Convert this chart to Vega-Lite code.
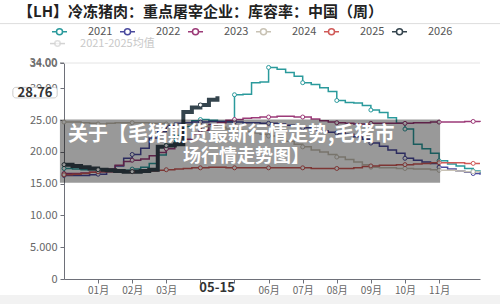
{
  "$schema": "https://vega.github.io/schema/vega-lite/v6.json",
  "width": 416,
  "height": 216,
  "autosize": {"type": "none"},
  "padding": {"left": 64, "top": 63, "right": 20, "bottom": 25},
  "background": "white",
  "config": {
    "view": {"stroke": null},
    "font": "Noto Sans CJK SC",
    "axis": {"labelOverlap": false, "labelFont": "Noto Sans CJK SC"},
    "axisY": {"labelOverlap": false, "gridColor": "#e4e4e4", "domainColor": "#6e7079", "tickColor": "#6e7079", "tickSize": 4, "labelColor": "#666", "labelFontSize": 11, "labelPadding": 3},
    "axisX": {"labelOverlap": false, "grid": false, "domainColor": "#6e7079", "tickColor": "#6e7079", "tickSize": 4, "labelColor": "#666", "labelFontSize": 10, "labelPadding": 2}
  },
  "datasets": {
    "weekly": [
      {"t": 0, "2021": 17.4, "2022": 16.3, "2023": 16.6, "2024": 24.7, "2025": 16.4, "2026": 18.0},
      {"t": 0.25, "2021": 17.3, "2022": 16.3, "2023": 16.6, "2024": 24.7, "2025": 16.5, "2026": 17.8},
      {"t": 0.5, "2021": 17.2, "2022": 16.3, "2023": 16.7, "2024": 24.6, "2025": 16.6, "2026": 17.6},
      {"t": 0.75, "2021": 17.2, "2022": 16.4, "2023": 16.8, "2024": 24.5, "2025": 16.8, "2026": 17.4},
      {"t": 1, "2021": 17.1, "2022": 16.5, "2023": 16.9, "2024": 24.4, "2025": 16.9, "2026": 17.2},
      {"t": 1.25, "2021": 17.0, "2022": 16.9, "2023": 17.3, "2024": 24.5, "2025": 16.9, "2026": 17.1},
      {"t": 1.5, "2021": 17.0, "2022": 17.8, "2023": 17.9, "2024": 24.6, "2025": 16.9, "2026": 17.0},
      {"t": 1.75, "2021": 17.1, "2022": 19.0, "2023": 18.5, "2024": 24.6, "2025": 16.9, "2026": 16.9},
      {"t": 2, "2021": 17.3, "2022": 19.6, "2023": 18.7, "2024": 24.6, "2025": 16.9, "2026": 16.9},
      {"t": 2.25, "2021": 17.6, "2022": 20.6, "2023": 18.9, "2024": 24.6, "2025": 17.0, "2026": 17.0},
      {"t": 2.5, "2021": 18.2, "2022": 22.2, "2023": 19.4, "2024": 24.5, "2025": 17.0, "2026": 17.2},
      {"t": 2.75, "2021": 19.5, "2022": 23.2, "2023": 19.9, "2024": 24.5, "2025": 17.1, "2026": 20.8},
      {"t": 3, "2021": 21.0, "2022": 24.2, "2023": 20.5, "2024": 24.4, "2025": 17.2, "2026": 21.0},
      {"t": 3.25, "2021": 22.6, "2022": 24.5, "2023": 21.2, "2024": 24.3, "2025": 17.3, "2026": 21.2},
      {"t": 3.5, "2021": 24.0, "2022": 24.6, "2023": 22.0, "2024": 24.3, "2025": 17.4, "2026": 26.3},
      {"t": 3.75, "2021": 24.9, "2022": 24.7, "2023": 22.8, "2024": 24.2, "2025": 17.5, "2026": 27.0},
      {"t": 4, "2021": 25.1, "2022": 24.7, "2023": 23.4, "2024": 24.1, "2025": 17.5, "2026": 27.4},
      {"t": 4.25, "2021": 25.0, "2022": 24.8, "2023": 24.3, "2024": 24.0, "2025": 17.6, "2026": 28.2},
      {"t": 4.5, "2021": 24.8, "2022": 24.8, "2023": 24.6, "2024": 23.9, "2025": 17.6, "2026": 28.76},
      {"t": 4.75, "2021": 24.8, "2022": 24.7, "2023": 25.0, "2024": 23.6, "2025": 17.5},
      {"t": 5, "2021": 29.0, "2022": 24.7, "2023": 25.1, "2024": 23.4, "2025": 17.5},
      {"t": 5.25, "2021": 29.1, "2022": 24.6, "2023": 25.3, "2024": 23.2, "2025": 17.5},
      {"t": 5.5, "2021": 30.9, "2022": 24.6, "2023": 25.4, "2024": 23.0, "2025": 17.5},
      {"t": 5.75, "2021": 31.0, "2022": 24.5, "2023": 25.5, "2024": 22.8, "2025": 17.5},
      {"t": 6, "2021": 33.3, "2022": 24.5, "2023": 25.5, "2024": 22.5, "2025": 17.5},
      {"t": 6.25, "2021": 33.0, "2022": 24.4, "2023": 25.6, "2024": 22.1, "2025": 17.5},
      {"t": 6.5, "2021": 32.5, "2022": 24.2, "2023": 25.6, "2024": 21.7, "2025": 17.5},
      {"t": 6.75, "2021": 31.9, "2022": 24.0, "2023": 25.5, "2024": 21.2, "2025": 17.5},
      {"t": 7, "2021": 30.9, "2022": 23.8, "2023": 25.5, "2024": 20.8, "2025": 17.5},
      {"t": 7.25, "2021": 30.6, "2022": 23.5, "2023": 25.2, "2024": 20.3, "2025": 17.4},
      {"t": 7.5, "2021": 30.1, "2022": 23.3, "2023": 24.9, "2024": 20.0, "2025": 17.4},
      {"t": 7.75, "2021": 29.5, "2022": 23.1, "2023": 24.7, "2024": 19.6, "2025": 17.4},
      {"t": 8, "2021": 28.1, "2022": 23.0, "2023": 24.6, "2024": 19.2, "2025": 17.4},
      {"t": 8.25, "2021": 27.8, "2022": 22.8, "2023": 24.5, "2024": 18.8, "2025": 17.4},
      {"t": 8.5, "2021": 27.7, "2022": 22.4, "2023": 24.4, "2024": 18.4, "2025": 17.5},
      {"t": 8.75, "2021": 27.3, "2022": 22.0, "2023": 24.4, "2024": 18.0, "2025": 17.7},
      {"t": 9, "2021": 26.6, "2022": 21.4, "2023": 24.5, "2024": 17.6, "2025": 17.8},
      {"t": 9.25, "2021": 26.2, "2022": 20.9, "2023": 24.5, "2024": 17.5, "2025": 17.9},
      {"t": 9.5, "2021": 25.4, "2022": 20.3, "2023": 24.5, "2024": 17.5, "2025": 17.9},
      {"t": 9.75, "2021": 24.5, "2022": 19.8, "2023": 24.5, "2024": 17.4, "2025": 18.0},
      {"t": 10, "2021": 23.6, "2022": 19.0, "2023": 24.5, "2024": 17.4, "2025": 18.0},
      {"t": 10.25, "2021": 21.2, "2022": 18.7, "2023": 24.6, "2024": 17.3, "2025": 18.1},
      {"t": 10.5, "2021": 20.5, "2022": 18.4, "2023": 24.6, "2024": 17.3, "2025": 18.2},
      {"t": 10.75, "2021": 19.8, "2022": 18.2, "2023": 24.7, "2024": 17.2, "2025": 18.3},
      {"t": 11, "2021": 18.6, "2022": 17.6, "2023": 24.7, "2024": 17.1, "2025": 18.3},
      {"t": 11.25, "2021": 18.1, "2022": 17.3, "2023": 24.7, "2024": 17.1, "2025": 18.3},
      {"t": 11.5, "2021": 17.8, "2022": 17.0, "2023": 24.7, "2024": 17.0, "2025": 18.3},
      {"t": 11.75, "2021": 17.4, "2022": 16.8, "2023": 24.8, "2024": 16.9, "2025": 18.2},
      {"t": 12, "2021": 17.0, "2022": 16.6, "2023": 24.8, "2024": 16.9, "2025": 18.2},
      {"t": 12.2, "2021": 16.7, "2022": 16.4, "2023": 24.7, "2024": 16.8, "2025": 18.2}
    ]
  },
  "layer": [
    {
      "data": {"values": [{}]},
      "mark": {"type": "rect", "fill": "#f2f2f2"},
      "encoding": {
        "x": {
          "datum": -1.9, "type": "quantitative",
          "scale": {"domain": [0, 12.2], "nice": false, "zero": false},
          "axis": {
            "values": [1, 2, 3, 4, 5, 6, 7, 8, 9, 10, 11],
            "labelExpr": "datum.value == 4 || datum.value == 5 ? '' : (datum.value < 10 ? '0' : '') + datum.value + '月'",
            "title": null
          }
        },
        "x2": {"datum": 12.8},
        "y": {
          "datum": -2.5, "type": "quantitative",
          "scale": {"domain": [0, 34], "nice": false},
          "axis": {"values": [0, 5, 10, 15, 20, 25, 30, 34], "tickCount": 8, "format": ".4r", "title": null}
        },
        "y2": {"datum": -4}
      }
    },
    {
      "data": {"values": [{}]},
      "mark": {"type": "rule", "color": "#e4e4e4", "strokeWidth": 1},
      "encoding": {"x": {"datum": 0}, "x2": {"datum": 12.2}, "y": {"datum": 34}}
    },
    {
      "data": {"values": [{}]},
      "mark": {"type": "rule", "color": "#6e7079", "strokeWidth": 1},
      "encoding": {"x": {"datum": -0.117}, "x2": {"datum": 0}, "y": {"datum": 34}}
    },
    {
      "data": {"values": [{}]},
      "mark": {"type": "text", "text": "34.00", "align": "right", "baseline": "middle", "fontSize": 11, "color": "#666666", "font": "Noto Sans CJK SC"},
      "encoding": {"x": {"datum": -0.205}, "y": {"datum": 34}}
    },
    {
      "data": {"name": "weekly"},
      "transform": [
        {"fold": ["2021", "2022", "2023", "2024", "2025", "2026"], "as": ["year", "v"]},
        {"filter": "datum.v != null"}
      ],
      "mark": {"type": "line", "interpolate": "step-after"},
      "encoding": {
        "x": {"field": "t", "type": "quantitative"},
        "y": {"field": "v", "type": "quantitative"},
        "color": {
          "field": "year", "type": "nominal",
          "scale": {
            "domain": ["2021", "2022", "2023", "2024", "2025", "2026", "2021-2025均值"],
            "range": ["#2a9a9c", "#4a4a9e", "#9c3a78", "#c8c2b4", "#d05a58", "#34444d", "#d3d3d3"]
          },
          "legend": {
            "title": null, "orient": "none", "legendX": -13, "legendY": -40,
            "direction": "horizontal", "columns": 6, "padding": 0,
            "values": ["2021", "2022", "2023", "2024", "2025", "2026"],
            "symbolType": "M-1,0L-0.4,0M0.4,0L1,0M0.4,0A0.4,0.4,0,1,1,-0.4,0A0.4,0.4,0,1,1,0.4,0Z",
            "symbolSize": 225, "symbolStrokeWidth": 1.5,
            "labelFontSize": 11, "labelColor": "#555", "labelOffset": 20,
            "columnPadding": 4, "rowPadding": -2,
            "encode": {
              "symbols": {"update": {"fill": {"value": "#ffffff"}}}
            }
          }
        },
        "strokeWidth": {"condition": {"test": "datum.year === '2026'", "value": 4}, "value": 1.5}
      }
    },
    {
      "data": {"name": "weekly"},
      "transform": [
        {"fold": ["2021", "2022", "2023", "2024", "2025", "2026"], "as": ["year", "v"]},
        {"filter": "datum.v != null && datum.t % 1 === 0"}
      ],
      "mark": {"type": "point", "filled": false, "fill": "#ffffff", "size": 16, "strokeWidth": 1, "opacity": 1},
      "encoding": {
        "x": {"field": "t", "type": "quantitative"},
        "y": {"field": "v", "type": "quantitative"},
        "color": {"field": "year", "type": "nominal", "legend": null}
      }
    },
    {
      "data": {"values": [{}]},
      "mark": {"type": "rule", "color": "#d3d3d3", "strokeWidth": 1.5},
      "encoding": {"x": {"datum": -0.41}, "x2": {"datum": 0.03}, "y": {"datum": 37.06}}
    },
    {
      "data": {"values": [{}]},
      "mark": {"type": "point", "shape": "circle", "filled": false, "fill": "#ffffff", "stroke": "#d3d3d3", "size": 30, "strokeWidth": 1.5},
      "encoding": {"x": {"datum": -0.19}, "y": {"datum": 37.06}}
    },
    {
      "data": {"values": [{}]},
      "mark": {"type": "text", "text": "2021-2025均值", "align": "left", "baseline": "middle", "fontSize": 11, "color": "#c8c8c8", "font": "Noto Sans CJK SC"},
      "encoding": {"x": {"datum": 0.47}, "y": {"datum": 37.06}}
    },
    {
      "data": {"values": [{}]},
      "mark": {"type": "rect", "fill": "#000000", "opacity": 0.4},
      "encoding": {
        "x": {"datum": -0.12}, "x2": {"datum": 11.03},
        "y": {"datum": 25.09}, "y2": {"datum": 15.17}
      }
    },
    {
      "data": {"values": [{}]},
      "mark": {"type": "text", "text": "关于【毛猪期货最新行情走势,毛猪市", "align": "left", "baseline": "middle", "fontSize": 20, "fontWeight": "bold", "color": "#ffffff", "font": "Noto Sans CJK SC"},
      "encoding": {"x": {"datum": 0.12}, "y": {"datum": 22.7}}
    },
    {
      "data": {"values": [{}]},
      "mark": {"type": "text", "text": "场行情走势图】", "align": "left", "baseline": "middle", "fontSize": 18, "fontWeight": "bold", "color": "#ffffff", "font": "Noto Sans CJK SC"},
      "encoding": {"x": {"datum": 3.49}, "y": {"datum": 19.25}}
    },
    {
      "data": {"values": [{}]},
      "mark": {"type": "text", "text": "【LH】冷冻猪肉：重点屠宰企业：库容率：中国（周）", "align": "left", "baseline": "middle", "fontSize": 15, "fontWeight": "bold", "color": "#222222", "font": "Noto Sans CJK SC"},
      "encoding": {"x": {"datum": -1.35}, "y": {"datum": 42.1}}
    },
    {
      "data": {"values": [{}]},
      "mark": {"type": "rule", "color": "#dddddd", "strokeWidth": 1},
      "encoding": {"x": {"datum": -1.88}, "x2": {"datum": 12.79}, "y": {"datum": 40.2}}
    },
    {
      "data": {"values": [{}]},
      "mark": {"type": "rect", "fill": "#ffffff", "stroke": "#cccccc", "strokeWidth": 1, "cornerRadius": 3},
      "encoding": {"x": {"datum": -1.5}, "x2": {"datum": -0.2}, "y": {"datum": 30.17}, "y2": {"datum": 28.5}}
    },
    {
      "data": {"values": [{}]},
      "mark": {"type": "text", "text": "28.76", "align": "center", "baseline": "middle", "fontSize": 13, "fontWeight": "bold", "color": "#333333", "font": "Noto Sans CJK SC"},
      "encoding": {"x": {"datum": -0.85}, "y": {"datum": 29.34}}
    },
    {
      "data": {"values": [{}]},
      "mark": {"type": "text", "text": "05-15", "align": "center", "baseline": "middle", "fontSize": 13, "fontWeight": "bold", "color": "#333333", "font": "Noto Sans CJK SC"},
      "encoding": {"x": {"datum": 4.49}, "y": {"datum": -1.35}}
    }
  ]
}
